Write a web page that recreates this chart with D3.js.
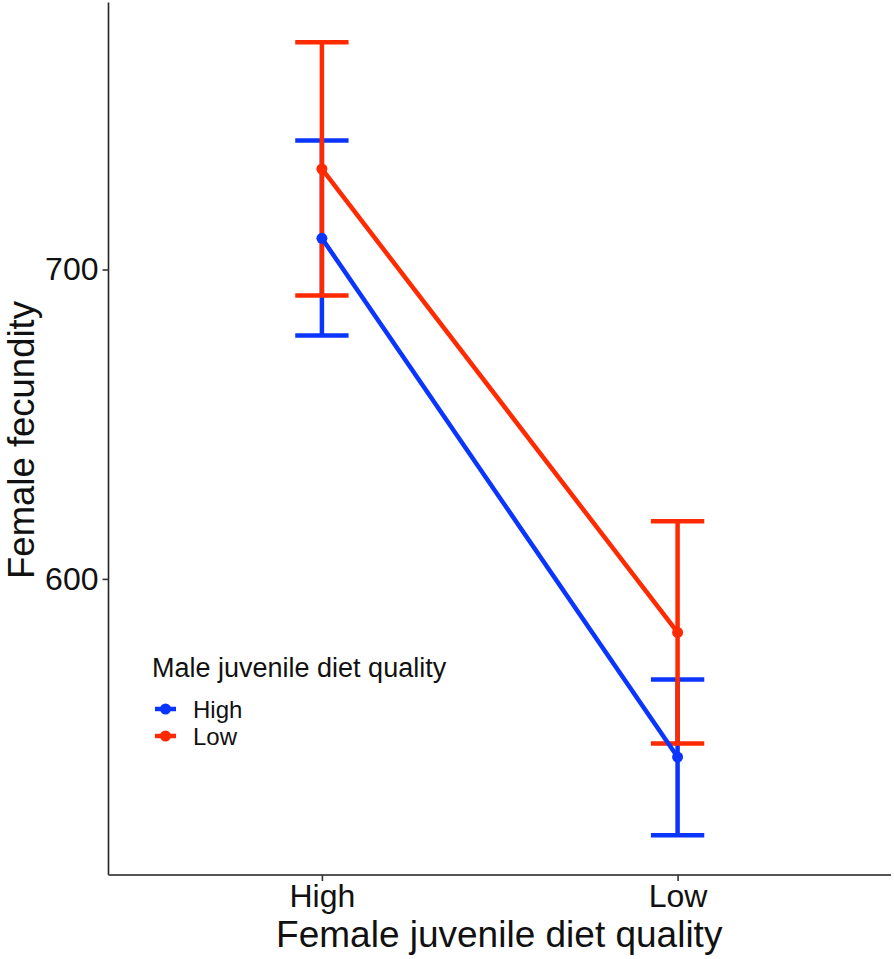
<!DOCTYPE html>
<html>
<head>
<meta charset="utf-8">
<script src="https://cdn.jsdelivr.net/npm/d3@7"></script>
<style>
  html, body { margin: 0; padding: 0; background: #fff; }
  svg { display: block; font-family: "Liberation Sans", Arial, Helvetica, sans-serif; }
</style>
</head>
<body>
<svg id="chart" width="894" height="959"></svg>
<script>
// ---- data ----
const femaleDiet = ["High", "Low"];          // x categories
const maleDiet = ["High", "Low"];            // series (legend)
const seriesColors = ["#0a35ff", "#ff2a00"];
const meanHighMale = [710.1, 542.4];         // mean fecundity, male diet High
const meanLowMale  = [732.5, 582.7];         // mean fecundity, male diet Low
const upperHighMale = [741.7, 567.5];
const lowerHighMale = [678.7, 517.1];
const upperLowMale  = [773.5, 618.6];
const lowerLowMale  = [691.6, 546.8];
const yTicks = [600, 700];
const xTitle = "Female juvenile diet quality";
const yTitle = "Female fecundity";
const legendTitle = "Male juvenile diet quality";

const series = [
  { name: maleDiet[0], color: seriesColors[0], mean: meanHighMale, up: upperHighMale, lo: lowerHighMale },
  { name: maleDiet[1], color: seriesColors[1], mean: meanLowMale,  up: upperLowMale,  lo: lowerLowMale }
];

// ---- layout ----
const panel = { left: 108.5, right: 891, top: 2.5, bottom: 875 };
const svg = d3.select("#chart");

const x = d3.scalePoint().domain(femaleDiet).range([panel.left, panel.right]).padding(0.6);

const allVals = series.flatMap(s => s.up.concat(s.lo));
const [mn, mx] = d3.extent(allVals);
const pad = (mx - mn) * 0.05;
const y = d3.scaleLinear().domain([mn - pad, mx + pad]).range([panel.bottom, panel.top]);

const capW = x.step() * 0.15;

// ---- axes ----
const yAxis = d3.axisLeft(y).tickValues(yTicks).tickSize(6).tickPadding(4).tickFormat(d3.format("d"));
const gy = svg.append("g").attr("transform", `translate(${panel.left},0)`).call(yAxis);
gy.select(".domain").attr("stroke", "#222").attr("stroke-width", 1.6).attr("d", `M0,${panel.top}V${panel.bottom}`);
gy.selectAll(".tick line").attr("stroke", "#333").attr("stroke-width", 1.6);
gy.selectAll(".tick text").attr("font-size", 32).attr("fill", "#111").attr("font-family", "Liberation Sans, Arial, sans-serif");

const xAxis = d3.axisBottom(x).tickSize(6).tickPadding(4);
const gx = svg.append("g").attr("transform", `translate(0,${panel.bottom})`).call(xAxis);
gx.select(".domain").attr("stroke", "#555").attr("stroke-width", 2).attr("d", `M${panel.left},0H${panel.right}`);
gx.selectAll(".tick line").attr("stroke", "#333").attr("stroke-width", 1.6);
gx.selectAll(".tick text").attr("font-size", 32).attr("fill", "#111").attr("y", 32).attr("dy", null)
  .attr("font-family", "Liberation Sans, Arial, sans-serif");

// axis titles
svg.append("text").attr("x", (panel.left + panel.right) / 2 - 0.5).attr("y", 947)
  .attr("text-anchor", "middle").attr("font-size", 37).attr("fill", "#111").text(xTitle);
svg.append("text").attr("transform", `translate(33.5,440) rotate(-90)`)
  .attr("text-anchor", "middle").attr("font-size", 36.5).attr("fill", "#111").text(yTitle);

// ---- marks ----
const plot = svg.append("g");
const lineGen = d3.line().x((d, i) => x(femaleDiet[i])).y(d => y(d));

// error bars
series.forEach(s => {
  const g = plot.append("g").attr("stroke", s.color).attr("stroke-width", 4.5).attr("fill", "none");
  femaleDiet.forEach((c, i) => {
    const cx = x(c);
    g.append("line").attr("x1", cx).attr("x2", cx).attr("y1", y(s.up[i])).attr("y2", y(s.lo[i]));
    g.append("line").attr("x1", cx - capW / 2).attr("x2", cx + capW / 2).attr("y1", y(s.up[i])).attr("y2", y(s.up[i]));
    g.append("line").attr("x1", cx - capW / 2).attr("x2", cx + capW / 2).attr("y1", y(s.lo[i])).attr("y2", y(s.lo[i]));
  });
});
// lines
series.forEach(s => {
  plot.append("path").attr("d", lineGen(s.mean)).attr("stroke", s.color).attr("stroke-width", 4.5).attr("fill", "none");
});
// points
series.forEach(s => {
  plot.selectAll(null).data(s.mean).enter().append("circle")
    .attr("cx", (d, i) => x(femaleDiet[i])).attr("cy", d => y(d)).attr("r", 5.5).attr("fill", s.color);
});

// ---- legend ----
const lg = svg.append("g");
lg.append("text").attr("x", 152).attr("y", 677).attr("font-size", 27).attr("fill", "#111").text(legendTitle);
const keyY = [709, 736];
series.forEach((s, i) => {
  lg.append("line").attr("x1", 155).attr("x2", 176).attr("y1", keyY[i]).attr("y2", keyY[i])
    .attr("stroke", s.color).attr("stroke-width", 4.5);
  lg.append("circle").attr("cx", 165.5).attr("cy", keyY[i]).attr("r", 5.5).attr("fill", s.color);
  lg.append("text").attr("x", 193).attr("y", keyY[i] + 8.5).attr("font-size", 24).attr("fill", "#111").text(s.name);
});
</script>
</body>
</html>
